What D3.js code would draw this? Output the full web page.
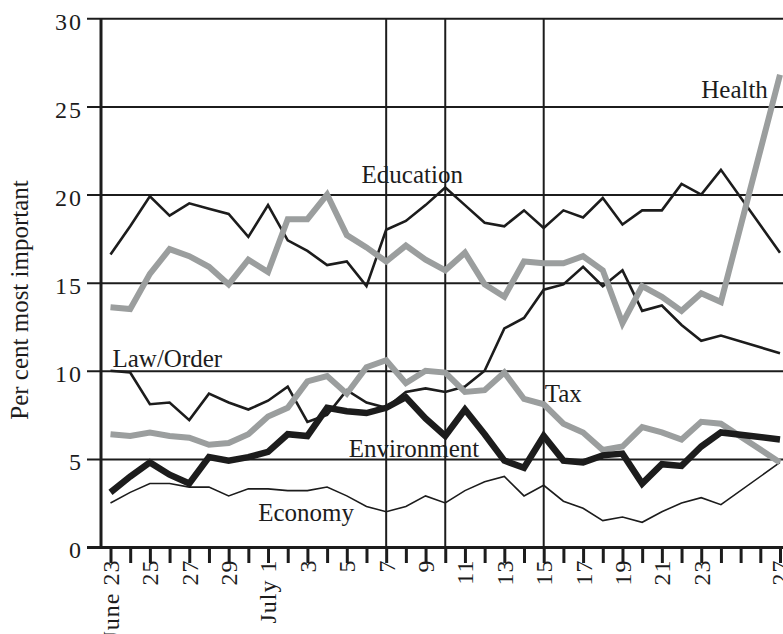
<!DOCTYPE html>
<html lang="en">
<head>
    <meta charset="UTF-8">
    <script type="text/javascript" src="https://d3js.org/d3.v7.min.js"></script>
    <title>Most important issue</title>
    <style>
        body { margin: 0; background: #fff; }
        svg text { font-family: "Liberation Serif", "Times New Roman", serif; fill: #1c1c1c; }
    </style>
</head>
<body>
    <svg id="plot"></svg>
    <script>
        const width = 783;
        const height = 634;

        // day offsets from June 23 (July 25 and 26 have no poll)
        const days = [0,1,2,3,4,5,6,7,8,9,10,11,12,13,14,15,16,17,18,19,20,21,22,23,24,25,26,27,28,29,30,31,34];
        const tickLabels = ["June 23","","25","","27","","29","","July 1","","3","","5","","7","","9","",
                            "11","","13","","15","","17","","19","","21","","23","","","","27"];
        const markerDays = [14, 17, 22];   // July 7, 10, 15

        const education   = [16.6,18.2,19.9,18.8,19.5,19.2,18.9,17.6,19.4,17.4,16.8,16.0,16.2,14.8,18.0,18.5,19.4,20.4,19.4,18.4,18.2,19.1,18.1,19.1,18.7,19.8,18.3,19.1,19.1,20.6,20.0,21.4,16.7];
        const health      = [13.6,13.5,15.5,16.9,16.5,15.9,14.9,16.3,15.6,18.6,18.6,20.0,17.7,17.0,16.2,17.1,16.3,15.7,16.7,14.9,14.2,16.2,16.1,16.1,16.5,15.7,12.7,14.8,14.2,13.4,14.4,13.9,26.8];
        const lawOrder    = [10.0,9.9,8.1,8.2,7.2,8.7,8.2,7.8,8.3,9.1,7.1,7.5,8.9,8.2,7.9,8.8,9.0,8.8,9.1,10.0,12.4,13.0,14.6,14.9,15.9,14.8,15.7,13.4,13.7,12.6,11.7,12.0,11.0];
        const tax         = [6.4,6.3,6.5,6.3,6.2,5.8,5.9,6.4,7.4,7.9,9.4,9.7,8.7,10.2,10.6,9.3,10.0,9.9,8.8,8.9,9.9,8.4,8.1,7.0,6.5,5.5,5.7,6.8,6.5,6.1,7.1,7.0,4.8];
        const environment = [3.1,4.0,4.8,4.1,3.6,5.1,4.9,5.1,5.4,6.4,6.3,7.9,7.7,7.6,7.9,8.5,7.3,6.3,7.8,6.4,4.9,4.5,6.3,4.9,4.8,5.2,5.3,3.6,4.7,4.6,5.7,6.5,6.1];
        const economy     = [2.5,3.1,3.6,3.6,3.4,3.4,2.9,3.3,3.3,3.2,3.2,3.4,2.9,2.3,2.0,2.3,2.9,2.5,3.2,3.7,4.0,2.9,3.5,2.6,2.2,1.5,1.7,1.4,2.0,2.5,2.8,2.4,4.8];

        const black = "#1c1c1c", grey = "#9b9e9e";
        const series = [
            {name: "Economy",     values: economy,     color: black, w: 1.6, label: [7.5, 1.5]},
            {name: "Law/Order",   values: lawOrder,    color: black, w: 2.6, label: [0.1, 10.2]},
            {name: "Education",   values: education,   color: black, w: 2.6, label: [12.75, 20.65]},
            {name: "Tax",         values: tax,         color: grey,  w: 6,   label: [22.05, 8.2]},
            {name: "Health",      values: health,      color: grey,  w: 6,   label: [30.0, 25.5]},
            {name: "Environment", values: environment, color: black, w: 6.5, label: [12.1, 5.1]}
        ];

        const svg = d3.select("#plot").attr("width", width).attr("height", height);

        const x = d3.scaleLinear().domain([0, 34]).range([110.5, 780]);
        const y = d3.scaleLinear().domain([0, 30]).range([547, 18.3]);
        const left = 101;

        // y axis with full-width grid
        const yAxis = d3.axisLeft(y).tickValues([0,5,10,15,20,25,30])
            .tickSize(-(width - left)).tickSizeOuter(0).tickPadding(0);
        const gy = svg.append("g").attr("transform", `translate(${left},0)`).call(yAxis);
        gy.select(".domain").remove();
        gy.selectAll(".tick line").attr("x1", -14).attr("stroke", black)
            .attr("stroke-width", d => d === 0 ? 3 : 2);
        gy.selectAll(".tick text").attr("x", -18).attr("dy", "0.45em")
            .style("font-size", "24px").style("letter-spacing", "2px").attr("fill", black);

        // x axis
        const xAxis = d3.axisBottom(x).tickValues(d3.range(0, 35))
            .tickFormat((d, i) => tickLabels[i]).tickSize(16).tickSizeOuter(0);
        const gx = svg.append("g").attr("transform", "translate(0,547)").call(xAxis);
        gx.select(".domain").remove();
        gx.selectAll(".tick line").attr("stroke", black).attr("stroke-width", 3);
        gx.selectAll(".tick text")
            .attr("transform", "rotate(-90)")
            .attr("x", -9).attr("y", 0).attr("dy", "0.33em").attr("dx", "-0.15em")
            .attr("text-anchor", "end")
            .style("font-size", "24px").style("letter-spacing", "1px").attr("fill", black);

        // left axis line
        svg.append("line").attr("x1", left).attr("x2", left).attr("y1", y(30)).attr("y2", y(0))
            .attr("stroke", black).attr("stroke-width", 3);

        // reference dates
        svg.selectAll(".marker").data(markerDays).join("line").attr("class", "marker")
            .attr("x1", d => x(d)).attr("x2", d => x(d)).attr("y1", y(30)).attr("y2", y(0))
            .attr("stroke", black).attr("stroke-width", 2);

        const line = d3.line().x((d, i) => x(days[i])).y(d => y(d)).curve(d3.curveLinear);

        svg.selectAll(".series").data(series).join("path").attr("class", "series")
            .attr("d", d => line(d.values))
            .attr("fill", "none").attr("stroke", d => d.color).attr("stroke-width", d => d.w)
            .attr("stroke-linejoin", "miter").attr("stroke-miterlimit", 3);

        svg.selectAll(".lbl").data(series).join("text").attr("class", "lbl")
            .attr("x", d => x(d.label[0])).attr("y", d => y(d.label[1]))
            .style("font-size", "25px").text(d => d.name);

        // y axis title
        svg.append("text").attr("transform", `translate(28,${300}) rotate(-90)`)
            .attr("text-anchor", "middle").style("font-size", "25px")
            .text("Per cent most important");
    </script>
</body>
</html>
